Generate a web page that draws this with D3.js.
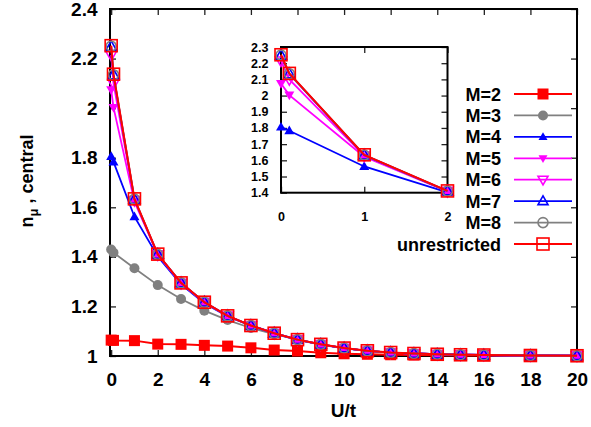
<!DOCTYPE html>
<html>
<head>
<meta charset="utf-8">
<script src="https://cdn.jsdelivr.net/npm/d3@7/dist/d3.min.js"></script>
<style>
  html, body { margin: 0; padding: 0; background: #fff; }
  svg { display: block; }
  text { font-family: "Liberation Sans", Arial, Helvetica, sans-serif; font-weight: bold; fill: #000; }
</style>
</head>
<body>
<svg id="chart" width="591" height="427"></svg>
<script>
// Interaction strength U/t
const U = [0, 0.1, 1, 2, 3, 4, 5, 6, 7, 8, 9, 10, 11, 12, 13, 14, 15, 16, 18, 20];

// Central-site occupation n_mu for each occupation cutoff M
const nM2 = [1.064, 1.063, 1.062, 1.048, 1.047, 1.043, 1.040, 1.033, 1.024, 1.020, 1.013, 1.009, 1.007, 1.005, 1.004, 1.003, 1.002, 1.002, 1.001, 1.000];
const nM3 = [1.430, 1.417, 1.354, 1.286, 1.230, 1.183, 1.145, 1.113, 1.088, 1.066, 1.047, 1.032, 1.021, 1.014, 1.010, 1.007, 1.005, 1.004, 1.002, 1.001];
const nM4 = [1.805, 1.783, 1.562, 1.402, 1.289, 1.213, 1.160, 1.122, 1.091, 1.065, 1.046, 1.031, 1.021, 1.014, 1.010, 1.007, 1.005, 1.004, 1.002, 1.001];
const nM5 = [2.074, 2.003, 1.622, 1.408, 1.293, 1.216, 1.161, 1.123, 1.092, 1.066, 1.047, 1.032, 1.021, 1.014, 1.010, 1.007, 1.005, 1.004, 1.002, 1.001];
const nM6 = [2.215, 2.100, 1.628, 1.409, 1.294, 1.217, 1.162, 1.123, 1.092, 1.066, 1.047, 1.032, 1.021, 1.014, 1.010, 1.007, 1.005, 1.004, 1.002, 1.001];
const nM7 = [2.248, 2.134, 1.632, 1.410, 1.295, 1.217, 1.162, 1.123, 1.092, 1.066, 1.047, 1.032, 1.021, 1.014, 1.010, 1.007, 1.005, 1.004, 1.002, 1.001];
const nM8 = [2.250, 2.135, 1.633, 1.410, 1.295, 1.217, 1.162, 1.123, 1.092, 1.066, 1.047, 1.032, 1.021, 1.014, 1.010, 1.007, 1.005, 1.004, 1.002, 1.001];
const nUnres = [2.252, 2.137, 1.634, 1.411, 1.295, 1.217, 1.162, 1.123, 1.092, 1.066, 1.047, 1.032, 1.021, 1.014, 1.010, 1.007, 1.005, 1.004, 1.002, 1.001];

const seriesNames = ["M=2", "M=3", "M=4", "M=5", "M=6", "M=7", "M=8", "unrestricted"];
const seriesValues = [nM2, nM3, nM4, nM5, nM6, nM7, nM8, nUnres];
const seriesColors = ["#ff0000", "#808080", "#0000ff", "#ff00ff", "#ff00ff", "#0000ff", "#808080", "#ff0000"];
const seriesMarkers = ["squareFilled", "circleFilled", "triUpFilled", "triDownFilled", "triDownOpen", "triUpOpen", "circleOpen", "squareOpen"];
const insetSeries = [2, 3, 4, 5, 6, 7]; // M=4 .. unrestricted

// Tick values
const xTicksMain = [0, 2, 4, 6, 8, 10, 12, 14, 16, 18, 20];
const yTicksMain = [1, 1.2, 1.4, 1.6, 1.8, 2, 2.2, 2.4];
const xTicksInset = [0, 1, 2];
const yTicksInset = [1.4, 1.5, 1.6, 1.7, 1.8, 1.9, 2, 2.1, 2.2, 2.3];

const svg = d3.select("#chart");
const fmt = d3.format("~g");

function drawMarker(g, type, cx, cy, color, s) {
  const filled = type.endsWith("Filled");
  const fill = filled ? color : "none";
  const sw = filled ? 0 : 1.6;
  if (type.startsWith("square")) {
    g.append("rect").attr("x", cx - s / 2).attr("y", cy - s / 2).attr("width", s).attr("height", s)
      .attr("fill", fill).attr("stroke", color).attr("stroke-width", sw);
  } else if (type.startsWith("circle")) {
    g.append("circle").attr("cx", cx).attr("cy", cy).attr("r", s / 2)
      .attr("fill", fill).attr("stroke", color).attr("stroke-width", sw);
  } else {
    const up = type.startsWith("triUp");
    const h = s * 0.87, w = s;
    const pts = up
      ? [[cx, cy - h * 0.6], [cx - w / 2, cy + h * 0.4], [cx + w / 2, cy + h * 0.4]]
      : [[cx, cy + h * 0.6], [cx - w / 2, cy - h * 0.4], [cx + w / 2, cy - h * 0.4]];
    g.append("polygon").attr("points", pts.map(p => p.join(",")).join(" "))
      .attr("fill", fill).attr("stroke", color).attr("stroke-width", sw);
  }
}

const markerSize = { squareFilled: 11, squareOpen: 12, circleFilled: 10, circleOpen: 10, triUpFilled: 10, triUpOpen: 11, triDownFilled: 10, triDownOpen: 11 };

function drawPanel(opts) {
  const { x, y, xTicks, yTicks, fontSize, xPad, yPad, series, background } = opts;
  const g = svg.append("g");
  const [x0, x1] = x.range();
  const [y0, y1] = y.range();
  if (background) {
    g.append("rect").attr("x", x0).attr("y", y1).attr("width", x1 - x0).attr("height", y0 - y1).attr("fill", "#fff");
  }

  const styleAxis = sel => {
    sel.select(".domain").remove();
    sel.selectAll(".tick line").attr("stroke", "#222").attr("stroke-width", 1.3);
    sel.selectAll(".tick text").attr("font-size", fontSize).attr("fill", "#000")
      .style("font-family", '"Liberation Sans", Arial, sans-serif').style("font-weight", "bold");
  };

  g.append("g").attr("transform", `translate(0,${y0})`)
    .call(d3.axisBottom(x).tickValues(xTicks).tickFormat(fmt).tickSize(-6).tickPadding(xPad)).call(styleAxis);
  g.append("g").attr("transform", `translate(0,${y1})`)
    .call(d3.axisTop(x).tickValues(xTicks).tickFormat("").tickSize(-6)).call(styleAxis);
  g.append("g").attr("transform", `translate(${x0},0)`)
    .call(d3.axisLeft(y).tickValues(yTicks).tickFormat(fmt).tickSize(-6).tickPadding(yPad)).call(styleAxis);
  g.append("g").attr("transform", `translate(${x1},0)`)
    .call(d3.axisRight(y).tickValues(yTicks).tickFormat("").tickSize(-6)).call(styleAxis);

  g.append("rect").attr("x", x0).attr("y", y1).attr("width", x1 - x0).attr("height", y0 - y1)
    .attr("fill", "none").attr("stroke", "#000").attr("stroke-width", 2);

  const line = d3.line().x(d => x(d[0])).y(d => y(d[1]));
  series.forEach(i => {
    const pts = U.map((u, k) => [u, seriesValues[i][k]]).filter(d => d[0] >= x.domain()[0] && d[0] <= x.domain()[1]);
    const sg = g.append("g");
    sg.append("path").attr("d", line(pts)).attr("fill", "none")
      .attr("stroke", seriesColors[i]).attr("stroke-width", i === 7 || i === 0 ? 2 : 1.8);
    pts.forEach(d => drawMarker(sg, seriesMarkers[i], x(d[0]), y(d[1]), seriesColors[i], markerSize[seriesMarkers[i]]));
  });
  return g;
}

// Main panel
const xMain = d3.scaleLinear().domain([-0.05, 20]).range([110, 577]);
const yMain = d3.scaleLinear().domain([1, 2.4]).range([356, 9]);
drawPanel({ x: xMain, y: yMain, xTicks: xTicksMain, yTicks: yTicksMain, fontSize: 19, xPad: 17, yPad: 12.5,
  series: [0, 1, 2, 3, 4, 5, 6, 7] });

// Axis titles
svg.append("text").attr("x", 343.5).attr("y", 417).attr("text-anchor", "middle").attr("font-size", 19).text("U/t");
const yTitle = svg.append("text").attr("transform", "translate(33,181) rotate(-90)")
  .attr("text-anchor", "middle").attr("font-size", 18);
yTitle.append("tspan").text("n");
yTitle.append("tspan").attr("font-size", 13).attr("dy", 5).text("μ");
yTitle.append("tspan").attr("dy", -5).text(" , central");

// Legend
const legend = svg.append("g");
seriesNames.forEach((name, i) => {
  const cy = 94 + i * 21.43;
  legend.append("text").attr("x", 501).attr("y", cy + 6.5).attr("text-anchor", "end").attr("font-size", 18).text(name);
  legend.append("line").attr("x1", 514).attr("x2", 572).attr("y1", cy).attr("y2", cy)
    .attr("stroke", seriesColors[i]).attr("stroke-width", 1.8);
  drawMarker(legend, seriesMarkers[i], 543, cy, seriesColors[i], markerSize[seriesMarkers[i]] - (seriesMarkers[i].startsWith("tri") ? 1 : 0));
});

// Inset: low-U detail
const xIn = d3.scaleLinear().domain([0, 2]).range([281, 447.5]);
const yIn = d3.scaleLinear().domain([1.4, 2.3]).range([192.7, 47]);
drawPanel({ x: xIn, y: yIn, xTicks: xTicksInset, yTicks: yTicksInset, fontSize: 12.5, xPad: 19, yPad: 12.5,
  series: insetSeries, background: true });
</script>
</body>
</html>
